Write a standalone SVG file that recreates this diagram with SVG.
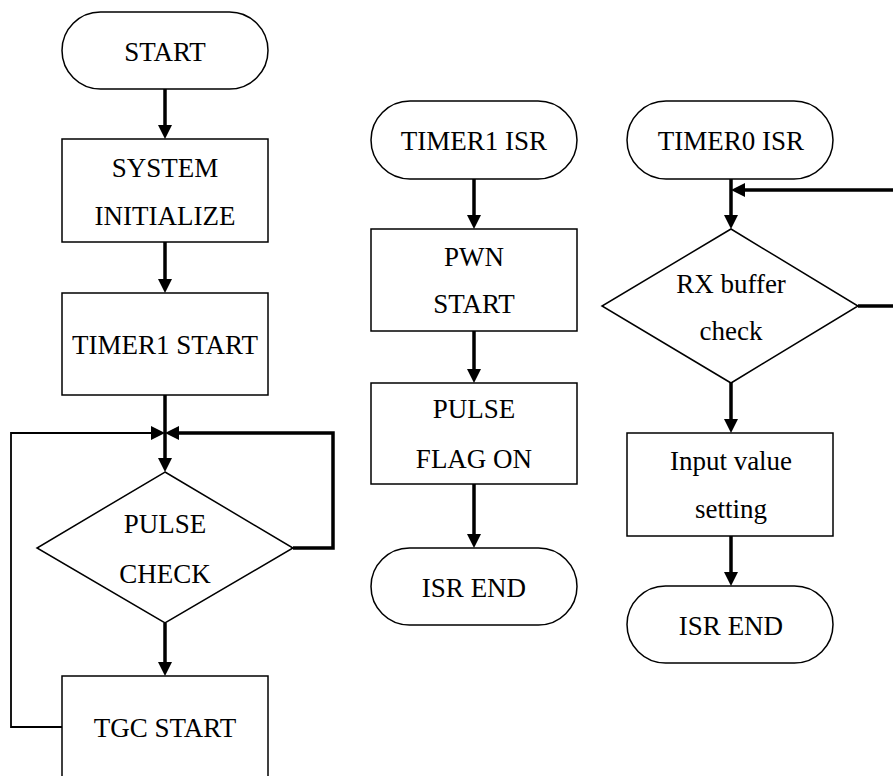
<svg xmlns="http://www.w3.org/2000/svg" width="893" height="776" viewBox="0 0 893 776">
<defs>
<marker id="ah" viewBox="0 0 14 14" markerWidth="14" markerHeight="14" refX="8" refY="7" orient="auto" markerUnits="userSpaceOnUse">
<path d="M0,0 L14,7 L0,14 z" fill="#000"/>
</marker>
</defs>
<style>
.shape{fill:#fff;stroke:#000;stroke-width:1.5}
.t{font-family:'Liberation Serif','DejaVu Serif',serif;font-size:27px;fill:#000;text-anchor:middle}
.thick{fill:none;stroke:#000;stroke-width:3.5}
.thin{fill:none;stroke:#000;stroke-width:1.8}
</style>
<rect width="893" height="776" fill="#fff"/>
<g id="connectors">
<line class="thick" x1="165" y1="89" x2="165" y2="133" marker-end="url(#ah)"/>
<line class="thick" x1="165" y1="242" x2="165" y2="287" marker-end="url(#ah)"/>
<line class="thick" x1="165" y1="395" x2="165" y2="466" marker-end="url(#ah)"/>
<polyline class="thick" points="293,548 333,548 333,433 171,433" marker-end="url(#ah)"/>
<polyline class="thin" points="62,727 11,727 11,433 159,433" marker-end="url(#ah)"/>
<line class="thick" x1="165" y1="623" x2="165" y2="670" marker-end="url(#ah)"/>
<line class="thick" x1="474" y1="179" x2="474" y2="223" marker-end="url(#ah)"/>
<line class="thick" x1="474" y1="331" x2="474" y2="377" marker-end="url(#ah)"/>
<line class="thick" x1="474" y1="484" x2="474" y2="542" marker-end="url(#ah)"/>
<line class="thick" x1="731" y1="179" x2="731" y2="223" marker-end="url(#ah)"/>
<polyline class="thick" points="858,306 897,306 897,190 737,190" marker-end="url(#ah)"/>
<line class="thick" x1="731" y1="383" x2="731" y2="427" marker-end="url(#ah)"/>
<line class="thick" x1="731" y1="536" x2="731" y2="580" marker-end="url(#ah)"/>
</g>
<g font-family="'Liberation Serif', 'DejaVu Serif', serif">
<g id="start">
<rect class="shape" x="62" y="12" width="206" height="77" rx="38.5"/>
<text class="t" x="165" y="61">START</text>
</g>
<g id="sysinit">
<rect class="shape" x="62" y="139" width="206" height="103"/>
<text class="t" x="165" y="177">SYSTEM</text>
<text class="t" x="165" y="225">INITIALIZE</text>
</g>
<g id="timer1start">
<rect class="shape" x="62" y="293" width="206" height="102"/>
<text class="t" x="165" y="354">TIMER1 START</text>
</g>
<g id="pulsecheck">
<polygon class="shape" points="165,472 293,548 165,623 37,548"/>
<text class="t" x="165" y="533">PULSE</text>
<text class="t" x="165" y="583">CHECK</text>
</g>
<g id="tgcstart">
<rect class="shape" x="62" y="676" width="206" height="104"/>
<text class="t" x="165" y="737">TGC START</text>
</g>
<g id="timer1isr">
<rect class="shape" x="371" y="101" width="206" height="78" rx="39"/>
<text class="t" x="474" y="150">TIMER1 ISR</text>
</g>
<g id="pwnstart">
<rect class="shape" x="371" y="229" width="206" height="102"/>
<text class="t" x="474" y="266">PWN</text>
<text class="t" x="474" y="313">START</text>
</g>
<g id="pulseflag">
<rect class="shape" x="371" y="383" width="206" height="101"/>
<text class="t" x="474" y="418">PULSE</text>
<text class="t" x="474" y="468">FLAG ON</text>
</g>
<g id="isrend1">
<rect class="shape" x="371" y="548" width="206" height="77" rx="38.5"/>
<text class="t" x="474" y="597">ISR END</text>
</g>
<g id="timer0isr">
<rect class="shape" x="627" y="101" width="206" height="78" rx="39"/>
<text class="t" x="731" y="150">TIMER0 ISR</text>
</g>
<g id="rxcheck">
<polygon class="shape" points="731,229 858,306 731,383 602,306"/>
<text class="t" x="731" y="293">RX buffer</text>
<text class="t" x="731" y="340">check</text>
</g>
<g id="inputvalue">
<rect class="shape" x="627" y="433" width="206" height="103"/>
<text class="t" x="731" y="470">Input value</text>
<text class="t" x="731" y="518">setting</text>
</g>
<g id="isrend2">
<rect class="shape" x="627" y="586" width="206" height="77" rx="38.5"/>
<text class="t" x="731" y="635">ISR END</text>
</g>
</g>
</svg>
